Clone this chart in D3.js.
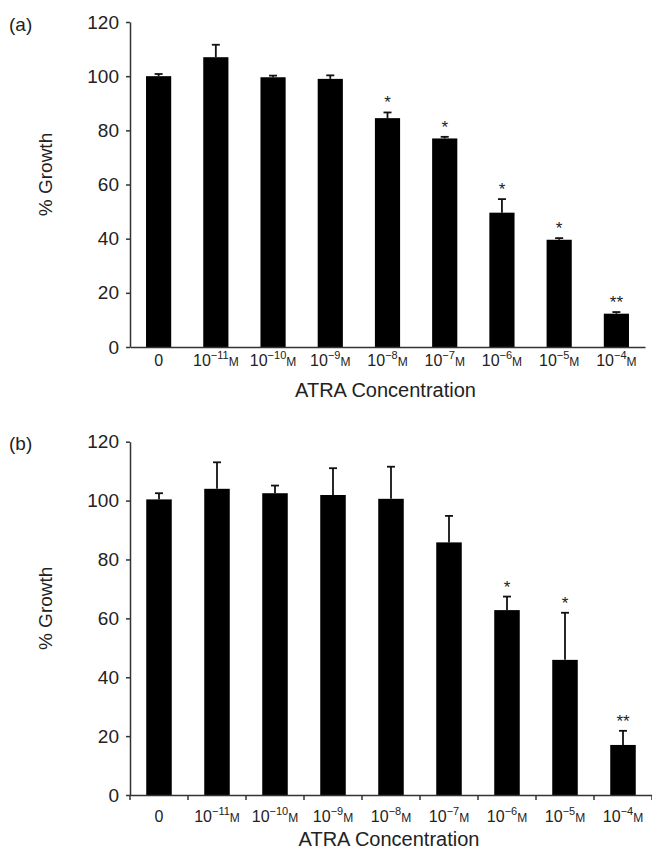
<!DOCTYPE html>
<html>
<head>
<meta charset="utf-8">
<script src="https://cdn.jsdelivr.net/npm/d3@7"></script>
<style>
    body { margin: 0; background: #fff; }
    svg text { font-family: "Liberation Sans", Arial, Helvetica, sans-serif; fill: #222; }
</style>
</head>
<body>
<div id="atra-chart"></div>
<script>
// concentrations: null = control, otherwise exponent of 10 (M)
var exponents = [null, -11, -10, -9, -8, -7, -6, -5, -4];
var yTicks = [0, 20, 40, 60, 80, 100, 120];

// panel (a)
var growthA = [100, 107, 99.6, 99, 84.5, 77, 49.6, 39.6, 12.3];
var errA = [0.8, 4.6, 0.6, 1.3, 2.1, 0.6, 5, 0.6, 0.6];
var starsA = ['', '', '', '', '*', '*', '*', '*', '**'];

// panel (b)
var growthB = [100.4, 104, 102.5, 101.9, 100.6, 85.8, 62.8, 45.9, 17];
var errB = [2.1, 9, 2.6, 9.1, 10.9, 9, 4.6, 16, 4.8];
var starsB = ['', '', '', '', '', '', '*', '*', '**'];

window.atraChart = (function () {

    var Chart = {};

    Chart.init = function () {
        this.svg = d3.select('#atra-chart').append('svg')
            .attr('width', 652)
            .attr('height', 854);

        this.drawPanel({
            label: '(a)', labelY: 31,
            values: growthA, errors: errA, stars: starsA,
            x0: 130, x1: 645, yBottom: 347, yTop: 22,
            bandTicks: false, tickLabelGap: 19, titleGap: 50
        });
        this.drawPanel({
            label: '(b)', labelY: 450,
            values: growthB, errors: errB, stars: starsB,
            x0: 130, x1: 652, yBottom: 795, yTop: 441.7,
            bandTicks: true, tickLabelGap: 27, titleGap: 51
        });
    };

    Chart.drawPanel = function (p) {
        var svg = this.svg;
        var cats = exponents.map(function (e, i) { return 'c' + i; });

        var x = d3.scaleBand()
            .domain(cats)
            .range([p.x0, p.x1])
            .paddingInner(0.56)
            .paddingOuter(0.28);
        var y = d3.scaleLinear()
            .domain([0, 120])
            .range([p.yBottom, p.yTop]);

        var g = svg.append('g');

        // bars
        g.selectAll('rect.bar')
            .data(p.values)
            .enter().append('rect')
            .attr('class', 'bar')
            .attr('x', function (d, i) { return x(cats[i]); })
            .attr('width', x.bandwidth())
            .attr('y', function (d) { return y(d); })
            .attr('height', function (d) { return y(0) - y(d); })
            .attr('fill', '#000');

        // upper error bars only
        var err = g.selectAll('g.err')
            .data(p.values)
            .enter().append('g')
            .attr('class', 'err')
            .attr('stroke', '#111')
            .attr('stroke-width', 1.8);
        err.append('line')
            .attr('x1', function (d, i) { return x(cats[i]) + x.bandwidth() / 2; })
            .attr('x2', function (d, i) { return x(cats[i]) + x.bandwidth() / 2; })
            .attr('y1', function (d) { return y(d); })
            .attr('y2', function (d, i) { return y(d + p.errors[i]); });
        err.append('line')
            .attr('x1', function (d, i) { return x(cats[i]) + x.bandwidth() / 2 - 4; })
            .attr('x2', function (d, i) { return x(cats[i]) + x.bandwidth() / 2 + 4; })
            .attr('y1', function (d, i) { return y(d + p.errors[i]); })
            .attr('y2', function (d, i) { return y(d + p.errors[i]); });

        // significance stars
        g.selectAll('text.star')
            .data(p.values)
            .enter().append('text')
            .attr('class', 'star')
            .attr('x', function (d, i) { return x(cats[i]) + x.bandwidth() / 2; })
            .attr('y', function (d, i) { return y(d + p.errors[i]) - 4; })
            .attr('text-anchor', 'middle')
            .style('font-size', '17px')
            .text(function (d, i) { return p.stars[i]; });

        // y axis
        var yAxis = g.append('g')
            .attr('transform', 'translate(' + p.x0 + ',0)')
            .call(d3.axisLeft(y).tickValues(yTicks).tickSize(4).tickSizeOuter(0).tickPadding(7));
        yAxis.selectAll('text').style('font-size', '19px');

        // x axis
        var xAxis = g.append('g')
            .attr('transform', 'translate(0,' + p.yBottom + ')')
            .call(d3.axisBottom(x).tickSize(0).tickSizeOuter(0).tickFormat(''));
        xAxis.selectAll('.tick text').remove();

        g.selectAll('.domain, .tick line')
            .attr('stroke', '#333')
            .attr('stroke-width', 1.5);

        if (p.bandTicks) {
            // ticks at the band boundaries
            var bounds = d3.range(cats.length + 1).map(function (i) {
                return p.x0 + i * x.step();
            });
            g.selectAll('line.btick')
                .data(bounds)
                .enter().append('line')
                .attr('class', 'btick')
                .attr('x1', function (d) { return d; })
                .attr('x2', function (d) { return d; })
                .attr('y1', p.yBottom)
                .attr('y2', p.yBottom + 5)
                .attr('stroke', '#333')
                .attr('stroke-width', 1.5);
        }

        // tick labels: 10^n M
        var lbl = g.selectAll('text.xlab')
            .data(exponents)
            .enter().append('text')
            .attr('class', 'xlab')
            .attr('x', function (d, i) { return x(cats[i]) + x.bandwidth() / 2; })
            .attr('y', p.yBottom + p.tickLabelGap)
            .attr('text-anchor', 'middle')
            .style('font-size', '16px');
        lbl.each(function (e) {
            var t = d3.select(this);
            if (e === null) {
                t.text('0');
                return;
            }
            t.append('tspan').text('10');
            t.append('tspan').attr('dy', -7).style('font-size', '11px')
                .text('\u2212' + Math.abs(e));
            t.append('tspan').attr('dy', 7).style('font-size', '12px').text('M');
        });

        // axis titles
        g.append('text')
            .attr('x', (p.x0 + p.x1) / 2 - 2)
            .attr('y', p.yBottom + p.titleGap)
            .attr('text-anchor', 'middle')
            .style('font-size', '20px')
            .text('ATRA Concentration');

        g.append('text')
            .attr('transform', 'translate(52,' + ((p.yBottom + p.yTop) / 2 - 10) + ') rotate(-90)')
            .attr('text-anchor', 'middle')
            .style('font-size', '19px')
            .text('% Growth');

        // panel label
        g.append('text')
            .attr('x', 9)
            .attr('y', p.labelY)
            .style('font-size', '19px')
            .text(p.label);
    };

    return Chart;

})();

atraChart.init();
</script>
</body>
</html>
